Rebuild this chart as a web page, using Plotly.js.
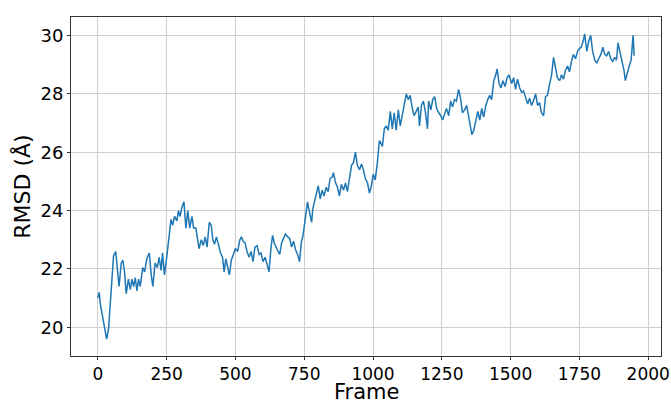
<!DOCTYPE html>
<html>
<head>
<meta charset="utf-8">
<script src="https://cdn.plot.ly/plotly-3.0.1.min.js"></script>
<style>
  html, body { margin: 0; padding: 0; background: #fff; }
  #chart { width: 671px; height: 404px; }
</style>
</head>
<body>
<div id="chart"></div>
<script>
// Frame numbers (x) and RMSD values (Å)
const frames = [
  0, 5, 9, 15, 20, 26, 32, 39, 45, 51, 57, 65, 73, 77, 85, 91, 97, 103, 111, 118,
  124, 130, 136, 142, 148, 154, 163, 170, 178, 187, 194, 200, 208, 216, 223, 230, 235, 242, 251, 259,
  266, 272, 279, 287, 293, 299, 305, 313, 320, 327, 334, 342, 348, 356, 363, 368, 376, 383, 390, 397,
  405, 412, 418, 424, 431, 439, 446, 453, 459, 465, 473, 478, 485, 493,
  500, 508, 516, 522, 528, 535, 542, 550, 557, 564, 571, 579, 586, 593, 600, 608, 615, 622, 629, 635,
  641, 649, 655, 661, 668, 675, 682, 690, 697, 704, 711, 719, 726, 733, 740, 745, 750, 755, 762, 769,
  777, 781, 789, 796, 801, 808, 815, 822, 830, 837, 844, 852, 856, 864, 871, 878, 885, 893, 900, 907,
  914, 922, 929, 936, 943, 951, 958, 965, 972, 980, 987, 994, 1001, 1008, 1016, 1023,
  1026, 1034, 1041, 1048, 1055, 1063, 1070, 1077, 1084, 1092, 1099, 1106, 1113, 1121, 1128, 1135, 1142, 1149,
  1157, 1164, 1169, 1176, 1183, 1190, 1198, 1202, 1210, 1217, 1224, 1231, 1239, 1246, 1253, 1260, 1267, 1275,
  1282, 1289, 1296, 1303, 1311, 1318, 1325, 1333, 1340, 1347, 1354, 1359, 1366, 1374, 1381, 1388, 1395, 1402,
  1410, 1417, 1424, 1431, 1439, 1446, 1451, 1458, 1465, 1472, 1480, 1487, 1494,
  1504, 1511, 1518, 1525, 1533, 1540, 1547, 1554, 1562, 1569, 1576, 1583, 1591, 1598, 1605, 1612, 1620, 1627,
  1634, 1641, 1649, 1656, 1663, 1670, 1678, 1685, 1692, 1699, 1707, 1714, 1721, 1728, 1736, 1743, 1750, 1757,
  1765, 1769, 1777, 1784, 1791, 1798, 1806, 1813, 1820, 1828, 1835, 1842, 1849, 1856, 1864, 1871, 1878, 1885,
  1890, 1897, 1905, 1912, 1917, 1924, 1931, 1938, 1945, 1949
];
const rmsd = [
  21.0, 21.2, 20.8, 20.5, 20.2, 19.9, 19.6, 19.95, 20.75, 21.4, 22.45, 22.6, 21.8, 21.4, 22.2, 22.3, 21.9, 21.15, 21.65, 21.3,
  21.65, 21.4, 21.7, 21.25, 21.65, 21.4, 22.05, 21.9, 22.35, 22.55, 21.8, 21.4, 22.2, 22.05, 22.4, 21.95, 22.55, 21.8, 22.45, 23.25,
  23.7, 23.5, 23.8, 23.65, 24.0, 23.8, 24.1, 24.3, 23.4, 24.0, 23.4, 23.8, 23.4, 23.4, 23.0, 22.7, 23.0, 22.8, 23.1, 22.75,
  23.6, 23.5, 23.0, 22.85, 23.1, 22.8, 22.55, 22.4, 21.9, 22.35, 22.05, 21.8, 22.3, 22.5,
  22.7, 22.6, 23.0, 23.1, 22.95, 22.9, 22.6, 22.4, 22.6, 22.25, 22.75, 22.8, 22.5, 22.55, 22.25, 22.4, 22.1, 21.9, 22.7, 23.15,
  22.9, 22.7, 22.6, 22.5, 22.9, 23.05, 23.2, 23.1, 23.05, 22.75, 22.95, 22.65, 22.5, 22.25, 22.95, 23.1, 23.5, 23.85, 24.3, 23.95,
  23.6, 24.05, 24.35, 24.65, 24.85, 24.4, 24.7, 24.5, 24.8, 24.65, 25.1, 25.15, 25.3, 24.95, 24.8, 24.5, 24.9, 24.7, 24.95, 24.65,
  25.05, 25.55, 25.65, 26.0, 25.55, 25.4, 25.6, 25.4, 25.1, 24.95, 24.6, 24.85, 25.25, 25.05, 25.65, 26.4,
  26.35, 26.2, 26.8, 26.9, 26.75, 27.4, 26.8, 27.35, 26.75, 27.45, 26.9, 27.25, 27.6, 28.0, 27.8, 27.95, 27.55, 27.25,
  27.4, 27.55, 26.9, 27.6, 27.75, 27.4, 26.8, 27.75, 27.45, 27.8, 27.9, 27.5, 27.35, 27.25, 27.1, 27.35, 27.5, 27.25,
  27.75, 27.55, 27.8, 27.75, 28.15, 27.85, 27.35, 27.45, 27.6, 27.25, 26.85, 26.6, 26.75, 27.15, 27.4, 27.1, 27.5, 27.2,
  27.6, 27.8, 27.95, 27.8, 28.45, 28.65, 28.85, 28.35, 28.2, 28.45, 28.25, 28.55, 28.65,
  28.35, 28.55, 28.15, 28.5, 28.2, 28.05, 28.1, 27.9, 27.65, 27.85, 27.6, 27.75, 28.0, 27.6, 27.7, 27.35, 27.25, 27.9,
  27.95, 28.3, 28.65, 29.25, 28.85, 28.55, 28.45, 28.65, 28.5, 28.8, 28.95, 28.75, 29.1, 29.35, 29.2, 29.45, 29.55, 29.6,
  29.85, 30.05, 29.45, 29.8, 30.0, 29.45, 29.15, 29.05, 29.2, 29.35, 29.6, 29.35, 29.3, 29.45, 29.2, 29.1, 29.25, 29.15,
  29.75, 29.45, 29.05, 28.8, 28.45, 28.75, 28.95, 29.15, 30.0, 29.3
];
const xTicks = [0, 250, 500, 750, 1000, 1250, 1500, 1750, 2000];
const yTicks = [20, 22, 24, 26, 28, 30];
const xTitle = 'Frame';
const yTitle = 'RMSD (Å)';

const FONT = 'DejaVu Sans, Liberation Sans, sans-serif';

const trace = {
  x: frames,
  y: rmsd,
  type: 'scatter',
  mode: 'lines',
  line: { color: '#1f77b4', width: 1.5 },
  hoverinfo: 'x+y'
};

const axisCommon = {
  showline: true,
  linecolor: '#333333',
  linewidth: 1,
  mirror: true,
  ticks: 'outside',
  ticklen: 3,
  tickwidth: 1,
  tickcolor: '#333333',
  showgrid: true,
  gridcolor: '#cfcfcf',
  gridwidth: 1,
  zeroline: false,
  ticklabeloverflow: 'allow',
  tickfont: { family: FONT, size: 17, color: '#000' }
};

const layout = {
  width: 671,
  height: 404,
  margin: { l: 71, r: 10, t: 17, b: 48 },
  paper_bgcolor: '#ffffff',
  plot_bgcolor: '#ffffff',
  showlegend: false,
  xaxis: Object.assign({}, axisCommon, {
    range: [-97.5, 2046.5],
    tickmode: 'array',
    tickvals: xTicks,
    ticktext: xTicks.map(String)
  }),
  yaxis: Object.assign({}, axisCommon, {
    range: [19.02, 30.63],
    tickmode: 'array',
    tickvals: yTicks,
    ticktext: yTicks.map(String),
    tickfont: { family: FONT, size: 18, color: '#000' },
    title: { text: yTitle, font: { family: FONT, size: 22, color: '#000' }, standoff: 3 }
  }),
  annotations: [{
    text: xTitle,
    xref: 'paper', yref: 'paper',
    x: 0.5, y: -0.146,
    xanchor: 'center', yanchor: 'bottom',
    showarrow: false,
    borderpad: 0,
    font: { family: FONT, size: 21, color: '#000' }
  }]
};

Plotly.newPlot('chart', [trace], layout, { displayModeBar: false, staticPlot: true });
</script>
</body>
</html>
